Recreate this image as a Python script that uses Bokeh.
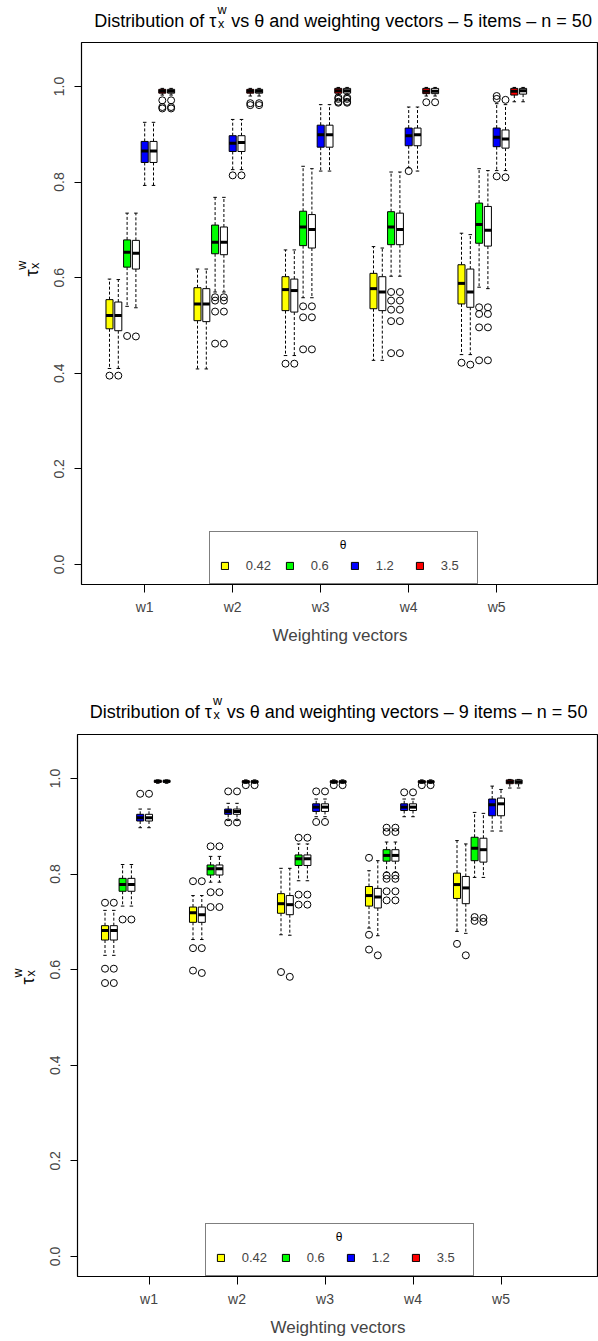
import math
from bokeh.plotting import figure
from bokeh.models import (Range1d, FixedTicker, Legend, LegendItem, ColumnDataSource,
                          PrintfTickFormatter)
from bokeh.core.properties import value
from bokeh.layouts import column, row
from bokeh.embed import file_html
from bokeh.resources import INLINE

FONT = "Liberation Sans"

GROUPS = ["w1", "w2", "w3", "w4", "w5"]
THETAS = ["0.42", "0.6", "1.2", "3.5"]
THETA_COLORS = ["#FFFF00", "#00FF00", "#0000FF", "#FF0000"]
Y_TICKS = [0.0, 0.2, 0.4, 0.6, 0.8, 1.0]

# order of every list: w1..w5, inside each: theta 0.42, 0.6, 1.2, 3.5, inside each: (coloured, white)
# ---------------- panel 1 : 5 items ----------------
P1_LO = [0.410, 0.410, 0.540, 0.537, 0.793, 0.793, 0.982, 0.982,
         0.409, 0.409, 0.570, 0.570, 0.826, 0.826, 0.980, 0.980,
         0.437, 0.437, 0.558, 0.558, 0.823, 0.823, 0.982, 0.982,
         0.427, 0.427, 0.603, 0.603, 0.830, 0.823, 0.980, 0.980,
         0.439, 0.439, 0.580, 0.577, 0.824, 0.824, 0.968, 0.968]
P1_Q1 = [0.493, 0.489, 0.622, 0.618, 0.841, 0.841, 0.986, 0.986,
         0.510, 0.508, 0.650, 0.648, 0.864, 0.864, 0.986, 0.986,
         0.531, 0.528, 0.667, 0.662, 0.873, 0.873, 0.986, 0.986,
         0.535, 0.531, 0.669, 0.669, 0.876, 0.876, 0.985, 0.985,
         0.545, 0.538, 0.672, 0.666, 0.874, 0.871, 0.982, 0.984]
P1_MED = [0.521, 0.521, 0.653, 0.651, 0.865, 0.865, 0.990, 0.990,
          0.545, 0.545, 0.674, 0.674, 0.881, 0.883, 0.990, 0.990,
          0.575, 0.573, 0.706, 0.701, 0.899, 0.899, 0.991, 0.991,
          0.577, 0.570, 0.706, 0.701, 0.897, 0.899, 0.990, 0.990,
          0.588, 0.570, 0.711, 0.699, 0.894, 0.890, 0.990, 0.991]
P1_Q3 = [0.554, 0.549, 0.679, 0.678, 0.885, 0.885, 0.994, 0.994,
         0.579, 0.577, 0.710, 0.706, 0.897, 0.897, 0.994, 0.994,
         0.602, 0.597, 0.739, 0.732, 0.919, 0.919, 0.996, 0.996,
         0.609, 0.602, 0.738, 0.735, 0.913, 0.913, 0.996, 0.996,
         0.627, 0.618, 0.756, 0.749, 0.913, 0.909, 0.996, 0.996]
P1_HI = [0.597, 0.596, 0.735, 0.735, 0.925, 0.925, 0.996, 0.996,
         0.618, 0.618, 0.768, 0.768, 0.931, 0.931, 0.996, 0.996,
         0.658, 0.658, 0.833, 0.828, 0.962, 0.962, 0.998, 0.998,
         0.665, 0.662, 0.821, 0.821, 0.957, 0.957, 0.998, 0.998,
         0.693, 0.690, 0.828, 0.824, 0.964, 0.962, 0.998, 0.998]
P1_OUT = [[0.395], [0.395], [0.478], [0.477], [], [], [0.971, 0.957, 0.954], [0.971, 0.957, 0.954],
          [], [], [0.559, 0.552, 0.529, 0.462], [0.559, 0.552, 0.529, 0.462], [0.814], [0.814], [0.965, 0.961], [0.965, 0.961],
          [0.420], [0.420], [0.540, 0.517, 0.450], [0.540, 0.517, 0.450], [], [], [0.977, 0.974, 0.968, 0.966], [0.977, 0.974, 0.968, 0.966],
          [], [], [0.570, 0.552, 0.533, 0.509, 0.442], [0.570, 0.552, 0.533, 0.509, 0.442], [0.823], [], [0.967], [0.967],
          [0.422], [0.418], [0.538, 0.524, 0.496, 0.427], [0.538, 0.524, 0.496, 0.427], [0.980, 0.974, 0.812], [0.972, 0.810], [], []]

# ---------------- panel 2 : 9 items ----------------
P2_LO = [0.630, 0.630, 0.733, 0.733, 0.897, 0.897, 0.990, 0.990,
         0.663, 0.663, 0.783, 0.783, 0.912, 0.912, 0.990, 0.990,
         0.673, 0.672, 0.786, 0.786, 0.920, 0.920, 0.990, 0.990,
         0.687, 0.671, 0.804, 0.804, 0.920, 0.920, 0.990, 0.990,
         0.680, 0.676, 0.793, 0.793, 0.890, 0.890, 0.980, 0.980]
P2_Q1 = [0.662, 0.662, 0.764, 0.764, 0.911, 0.911, 0.992, 0.992,
         0.699, 0.699, 0.798, 0.798, 0.925, 0.925, 0.991, 0.991,
         0.718, 0.715, 0.818, 0.818, 0.931, 0.931, 0.991, 0.991,
         0.733, 0.729, 0.827, 0.827, 0.933, 0.933, 0.991, 0.991,
         0.749, 0.738, 0.828, 0.825, 0.922, 0.922, 0.989, 0.989]
P2_MED = [0.682, 0.682, 0.778, 0.778, 0.918, 0.918, 0.994, 0.994,
          0.719, 0.715, 0.811, 0.811, 0.931, 0.931, 0.993, 0.993,
          0.738, 0.736, 0.832, 0.832, 0.940, 0.940, 0.993, 0.993,
          0.755, 0.752, 0.839, 0.839, 0.940, 0.940, 0.993, 0.993,
          0.778, 0.771, 0.854, 0.851, 0.945, 0.947, 0.993, 0.993]
P2_Q3 = [0.692, 0.692, 0.791, 0.791, 0.925, 0.925, 0.996, 0.996,
         0.731, 0.731, 0.819, 0.819, 0.936, 0.936, 0.995, 0.995,
         0.759, 0.755, 0.840, 0.840, 0.947, 0.947, 0.995, 0.995,
         0.774, 0.770, 0.851, 0.851, 0.947, 0.947, 0.995, 0.995,
         0.802, 0.795, 0.877, 0.875, 0.957, 0.959, 0.997, 0.997]
P2_HI = [0.724, 0.724, 0.820, 0.820, 0.936, 0.936, 0.997, 0.997,
         0.755, 0.755, 0.837, 0.837, 0.948, 0.948, 0.997, 0.997,
         0.812, 0.812, 0.863, 0.863, 0.957, 0.957, 0.997, 0.997,
         0.807, 0.828, 0.867, 0.867, 0.957, 0.957, 0.997, 0.997,
         0.870, 0.863, 0.929, 0.927, 0.984, 0.977, 0.998, 0.998]
P2_OUT = [[0.740, 0.602, 0.572], [0.740, 0.602, 0.572], [0.705], [0.705], [0.968], [0.968], [], [],
          [0.785, 0.645, 0.598], [0.785, 0.645, 0.593], [0.858, 0.762, 0.731], [0.858, 0.762, 0.731], [0.973, 0.908], [0.973, 0.908], [0.986], [0.986],
          [0.595], [0.585], [0.876, 0.757, 0.736], [0.876, 0.757, 0.736], [0.973, 0.909], [0.973, 0.909], [0.986], [0.986],
          [0.834, 0.673, 0.642], [0.630], [0.897, 0.888, 0.797, 0.790, 0.764, 0.745], [0.897, 0.888, 0.797, 0.790, 0.764, 0.745], [0.971], [0.971], [0.986], [0.986],
          [0.654], [0.630], [0.710, 0.702], [0.708, 0.700], [], [], [], []]

TICKS_1 = [5, 15, 25, 35, 45]
TICKS_2 = [6, 16, 26, 36, 46]

# approximate advance widths (em) of Liberation Sans, used to centre composed titles
W_EM = {" ": .278, "D": .722, "i": .222, "s": .5, "t": .278, "r": .333, "b": .556, "u": .556,
        "o": .556, "n": .556, "f": .278, "v": .5, "a": .556, "d": .556, "w": .722, "e": .556,
        "g": .556, "h": .556, "c": .5, "m": .833, "=": .584, "–": .556, "θ": .556, "τ": .44,
        "x": .5, "W": .944, ".": .278}

AXIS_BORDER = 36  # room kept for the y tick labels inside each plot


def tw(s, size):
    return sum(W_EM.get(ch, 0.556) for ch in s) * size


def text_canvas(width, height):
    f = figure(width=width, height=height, output_backend="svg", toolbar_location=None,
               x_range=Range1d(0, width), y_range=Range1d(0, height), min_border=0,
               x_axis_type=None, y_axis_type=None)
    f.outline_line_color = None
    f.xgrid.visible = False
    f.ygrid.visible = False
    f.background_fill_color = "white"
    f.border_fill_color = "white"
    return f


def put(f, text, x, y, size, align="left", baseline="alphabetic", angle=0.0):
    f.text(x=[x], y=[y], text=[text], text_font=value(FONT), text_font_size=value(f"{size:.1f}px"),
           text_align=align, text_baseline=baseline, angle=angle, text_color="black")


def build(n_items, lo, q1, md, q3, hi, outs, ticks, top_h, height, b_bottom, b_left, first_px, center_px):
    unit = 8.8
    ylab_w = b_left - AXIS_BORDER
    main_w = 598 - ylab_w
    main_h = height - top_h
    frame_w = main_w - AXIS_BORDER
    frame_h = main_h - 1 - b_bottom
    xs = 1 + (b_left - first_px) / unit
    y_lo, y_hi = -0.042, 1.092

    # ---------- title strip ----------
    tf = text_canvas(598, top_h)
    F = 18.0
    S = 0.7 * F
    left_txt = "Distribution of τ"
    right_txt = f"vs θ and weighting vectors – {n_items} items – n = 50"
    wl = tw(left_txt, F)
    ws = tw("w", S)
    wr = tw(" " + right_txt, F)
    x0 = center_px - (wl + ws + wr) / 2
    yb = top_h - 20
    put(tf, left_txt, x0, yb, F)
    put(tf, "w", x0 + wl + 0.5, yb + 0.58 * F, S)
    put(tf, "x", x0 + wl + 1.0, yb - 0.18 * F, S)
    put(tf, right_txt, x0 + wl + ws + tw(" ", F), yb, F)

    # ---------- y-axis title strip (rotated tau with stacked scripts) ----------
    yf = text_canvas(ylab_w, main_h)
    Fy = 18.0
    Sy = 0.7 * Fy
    wt = tw("τ", Fy)
    L = wt + tw("w", Sy)
    xb = ylab_w + AXIS_BORDER - 50.0
    yc = main_h - 1 - frame_h / 2
    y0 = yc - L / 2
    put(yf, "τ", xb, y0, Fy, angle=math.pi / 2)
    put(yf, "w", xb - 0.55 * Fy, y0 + wt, Sy, angle=math.pi / 2)
    put(yf, "x", xb + 0.2 * Fy, y0 + wt + 1, Sy, angle=math.pi / 2)

    # ---------- main plot ----------
    p = figure(width=main_w, height=main_h, output_backend="svg", toolbar_location=None,
               x_range=Range1d(xs, xs + frame_w / unit), y_range=Range1d(y_lo, y_hi),
               min_border_left=AXIS_BORDER, min_border_right=0, min_border_top=1,
               min_border_bottom=b_bottom)
    p.xgrid.visible = False
    p.ygrid.visible = False
    p.outline_line_color = "black"
    p.outline_line_width = 1.2
    p.background_fill_color = "white"
    p.border_fill_color = "white"

    pos, fill = [], []
    for g in range(len(GROUPS)):
        for t in range(len(THETAS)):
            for k in range(2):
                pos.append(1 + 10 * g + 2 * t + k)
                fill.append(THETA_COLORS[t] if k == 0 else "#FFFFFF")
    src = ColumnDataSource(dict(x=pos, l=[v - 0.4 for v in pos], r=[v + 0.4 for v in pos],
                                sl=[v - 0.2 for v in pos], sr=[v + 0.2 for v in pos],
                                lo=lo, q1=q1, md=md, q3=q3, hi=hi, fill=fill))
    p.segment(x0="x", y0="q3", x1="x", y1="hi", source=src, line_color="black", line_width=1, line_dash="3 2")
    p.segment(x0="x", y0="q1", x1="x", y1="lo", source=src, line_color="black", line_width=1, line_dash="3 2")
    p.segment(x0="sl", y0="hi", x1="sr", y1="hi", source=src, line_color="black", line_width=1)
    p.segment(x0="sl", y0="lo", x1="sr", y1="lo", source=src, line_color="black", line_width=1)
    boxes = p.quad(left="l", right="r", bottom="q1", top="q3", source=src, fill_color="fill",
                   line_color="black", line_width=1)
    p.segment(x0="l", y0="md", x1="r", y1="md", source=src, line_color="black", line_width=3, line_cap="butt")
    ox, oy = [], []
    for i, vals in enumerate(outs):
        for v in vals:
            ox.append(pos[i])
            oy.append(v)
    p.scatter(x=ox, y=oy, marker="circle", size=7, fill_color=None, line_color="black", line_width=1)

    ax = p.xaxis[0]
    ax.ticker = FixedTicker(ticks=ticks)
    ax.major_label_overrides = {t: g for t, g in zip(ticks, GROUPS)}
    ax.minor_tick_line_color = None
    ax.axis_line_color = None
    ax.major_tick_in = 0
    ax.major_tick_out = 8
    ax.major_label_standoff = 6
    ax.major_label_text_font = FONT
    ax.major_label_text_font_size = "14px"
    ax.axis_label = "Weighting vectors"
    ax.axis_label_text_font = FONT
    ax.axis_label_text_font_style = "normal"
    ax.axis_label_text_font_size = "17px"
    ax.axis_label_standoff = 8

    ay = p.yaxis[0]
    ay.ticker = FixedTicker(ticks=Y_TICKS)
    ay.formatter = PrintfTickFormatter(format="%.1f")
    ay.minor_tick_line_color = None
    ay.axis_line_color = None
    ay.major_tick_in = 0
    ay.major_tick_out = 7
    ay.major_label_standoff = 10
    ay.major_label_orientation = "vertical"
    ay.major_label_text_font = FONT
    ay.major_label_text_font_size = "14px"

    # legend; its theta heading is a centred text seen through the transparent legend body
    y_per_px = (y_hi - y_lo) / frame_h
    th_x = xs + (127.7 + 267.6 / 2) / unit
    th_y = y_lo + 39.5 * y_per_px
    p.text(x=[th_x], y=[th_y], text=["θ"], text_font=value(FONT), text_font_size=value("12px"),
           text_align="center", text_baseline="middle", text_color="black")
    items = [LegendItem(label=THETAS[t], renderers=[boxes], index=2 * t) for t in range(len(THETAS))]
    leg = Legend(items=items, orientation="horizontal", location=(127.7, 0), margin=0, padding=10,
                 spacing=13, glyph_width=9, glyph_height=9, label_standoff=17, label_width=26,
                 label_height=15, label_text_font=FONT, label_text_font_size="13px",
                 title=" ", title_text_font_size="11px", title_standoff=4,
                 border_line_color="black", border_line_width=1, background_fill_alpha=0.0)
    p.add_layout(leg, "center")

    return column(tf, row(yf, p, spacing=0), spacing=0)


panel1 = build(5, P1_LO, P1_Q1, P1_MED, P1_Q3, P1_HI, P1_OUT, TICKS_1,
               top_h=41, height=691, b_bottom=107, b_left=81, first_px=109.0, center_px=342.5)
panel2 = build(9, P2_LO, P2_Q1, P2_MED, P2_Q3, P2_HI, P2_OUT, TICKS_2,
               top_h=42, height=650, b_bottom=65, b_left=77, first_px=104.5, center_px=338.0)

layout = column(panel1, panel2, spacing=0)
open("out.html", "w").write(file_html(layout, INLINE))
